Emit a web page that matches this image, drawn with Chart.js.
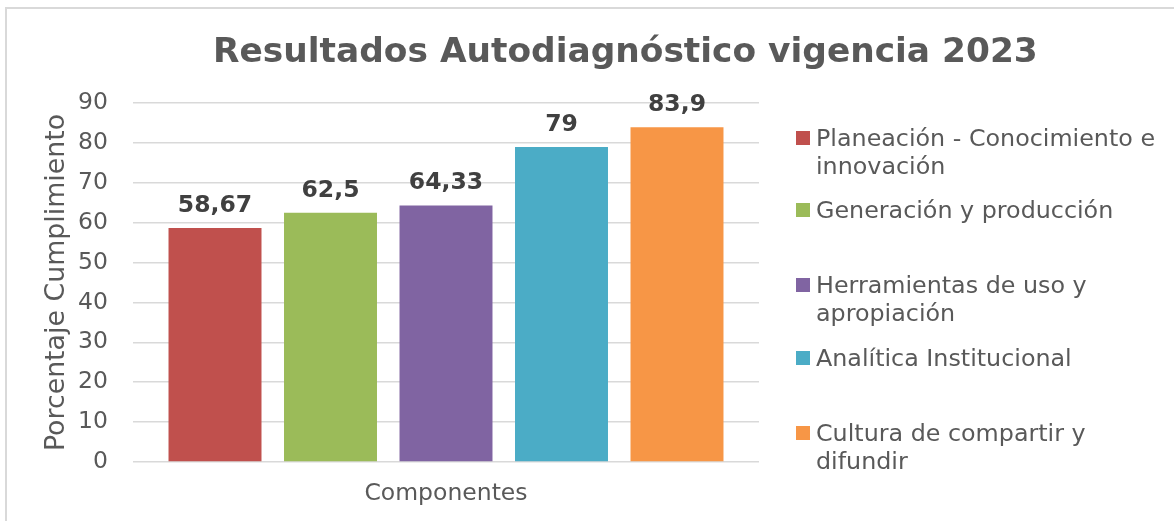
<!DOCTYPE html>
<html>
<head>
<meta charset="utf-8">
<script src="https://cdn.jsdelivr.net/npm/chart.js@4.4.1/dist/chart.umd.min.js"></script>
<style>
  html, body { margin: 0; padding: 0; background: #fff; }
  #wrap { position: relative; width: 1174px; height: 521px; overflow: hidden; font-family: "DejaVu Sans", Verdana, sans-serif; }
  #frame { position: absolute; left: 5px; top: 7px; width: 1200px; height: 600px; border-left: 2px solid #D9D9D9; border-top: 2px solid #D9D9D9; box-sizing: border-box; }
  #title { position: absolute; left: 213px; width: 800px; top: 28px; text-align: center; font-size: 34.4px; font-weight: bold; color: #595959; white-space: nowrap; line-height: 44px; }
  canvas { position: absolute; left: 0; top: 0; }
  .lg { position: absolute; left: 796px; color: #595959; font-size: 23.8px; line-height: 28px; }
  .lg .sw { position: absolute; left: 0; top: 7px; width: 14px; height: 14px; }
  .lg .tx { position: absolute; left: 20px; top: 0; width: 354px; }
</style>
</head>
<body>
<div id="wrap">
  <div id="frame"></div>
  <canvas id="c" width="1174" height="521"></canvas>
  <div id="title"></div>
  <div id="legend"></div>
</div>
<script>
const chartTitle = 'Resultados Autodiagnóstico vigencia 2023';
const categories = ['Componentes'];
const seriesNames = [
  'Planeación - Conocimiento e innovación',
  'Generación y producción',
  'Herramientas de uso y apropiación',
  'Analítica Institucional',
  'Cultura de compartir y difundir'
];
const seriesValues = [58.67, 62.5, 64.33, 79, 83.9];
const seriesColors = ['#C0504D', '#9BBB59', '#8064A2', '#4BACC6', '#F79646'];
const yTitle = 'Porcentaje Cumplimiento';
const yMin = 0, yMax = 90, yStep = 10;
const legendTops = [124, 196, 271, 344, 419];

document.getElementById('title').textContent = chartTitle;

const lg = document.getElementById('legend');
seriesNames.forEach((n, i) => {
  const d = document.createElement('div');
  d.className = 'lg';
  d.style.top = legendTops[i] + 'px';
  d.innerHTML = '<div class="sw" style="background:' + seriesColors[i] + '"></div><div class="tx"></div>';
  d.querySelector('.tx').textContent = n;
  lg.appendChild(d);
});

const fam = '"DejaVu Sans", Verdana, sans-serif';

const valueLabels = {
  id: 'valueLabels',
  afterDatasetsDraw(chart) {
    const ctx = chart.ctx;
    ctx.save();
    ctx.font = 'bold 23.5px ' + fam;
    ctx.fillStyle = '#404040';
    ctx.textAlign = 'center';
    ctx.textBaseline = 'alphabetic';
    chart.data.datasets.forEach((ds, i) => {
      const meta = chart.getDatasetMeta(i);
      meta.data.forEach((bar, j) => {
        const v = ds.data[j];
        const txt = String(v).replace('.', ',');
        ctx.fillText(txt, bar.x, bar.y - 16);
      });
    });
    ctx.restore();
  }
};

new Chart(document.getElementById('c'), {
  type: 'bar',
  data: {
    labels: categories,
    datasets: seriesNames.map((n, i) => ({
      label: n,
      data: [seriesValues[i]],
      backgroundColor: seriesColors[i],
      borderWidth: 0,
      categoryPercentage: 0.9225,
      barPercentage: 0.805
    }))
  },
  options: {
    responsive: false,
    animation: false,
    devicePixelRatio: 1,
    layout: { padding: { left: 30, right: 415, top: 103, bottom: 0 } },
    plugins: {
      legend: { display: false },
      title: { display: false },
      tooltip: { enabled: false }
    },
    scales: {
      x: {
        grid: { display: false, drawTicks: false },
        border: { display: false },
        ticks: { color: '#595959', font: { family: fam, size: 23.5 }, padding: 18 },
        afterFit(s) { s.height = 59; }
      },
      y: {
        min: yMin, max: yMax,
        ticks: { stepSize: yStep, color: '#595959', font: { family: fam, size: 23.5 }, padding: 25 },
        grid: { color: '#D9D9D9', lineWidth: 1.5, drawTicks: false },
        border: { display: false },
        title: { display: true, text: yTitle, color: '#595959', font: { family: fam, size: 26.8 }, padding: { top: 11, bottom: 0 } },
        afterFit(s) { s.width = 103; }
      }
    }
  },
  plugins: [valueLabels]
});
</script>
</body>
</html>
